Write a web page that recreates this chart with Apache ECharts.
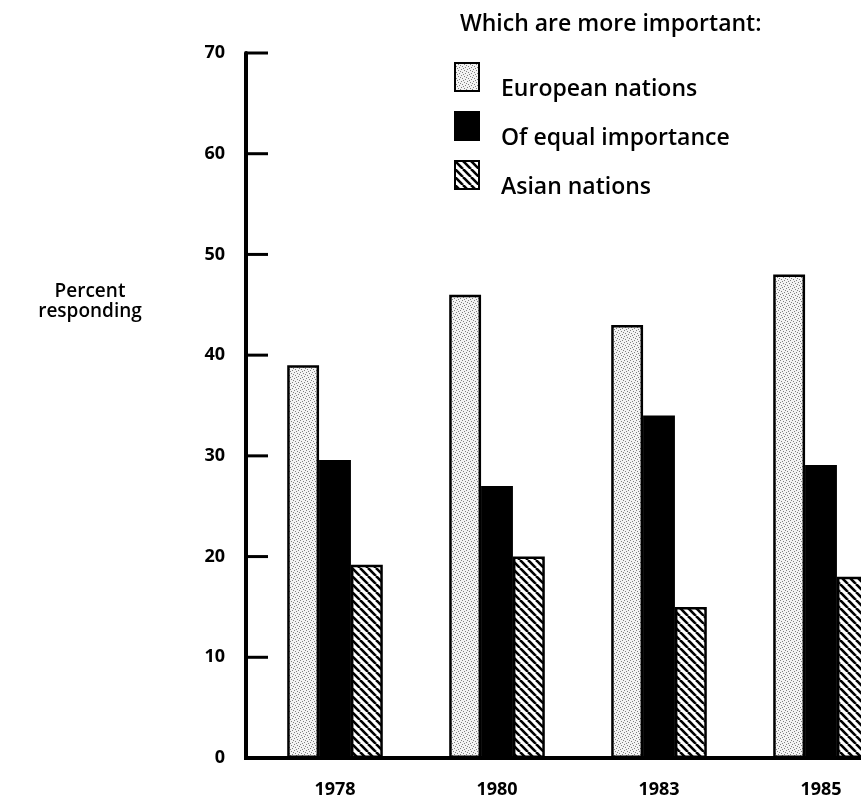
<!DOCTYPE html>
<html>
<head>
<meta charset="utf-8">
<script src="https://cdn.jsdelivr.net/npm/echarts@6/dist/echarts.min.js"></script>
<style>
html,body{margin:0;padding:0;background:#fff;overflow:hidden;width:861px;height:806px;}
#chart{width:902px;height:806px;}
</style>
</head>
<body>
<div id="chart"></div>
<script>
const years = ['1978', '1980', '1983', '1985'];
const european = [39, 46, 43, 48];
const equal = [29.6, 27, 34, 29.1];
const asian = [19.2, 20, 15, 18];
const seriesNames = ['European nations', 'Of equal importance', 'Asian nations'];
const titleText = 'Which are more important:';
const yName = 'Percent\nresponding';
const yMin = 0, yMax = 70, yStep = 10;

const FONT = '"Open Sans", "DejaVu Sans", sans-serif';

function stipple() {
  const c = document.createElement('canvas');
  c.width = 6; c.height = 6;
  const g = c.getContext('2d');
  g.fillStyle = '#f3f3f3'; g.fillRect(0, 0, 6, 6);
  g.fillStyle = '#808080';
  [[0,0],[3,1],[1,3],[4,4],[5,2],[2,5]].forEach(p => g.fillRect(p[0], p[1], 1, 1));
  return c;
}
function hatch() {
  const c = document.createElement('canvas');
  c.width = 8; c.height = 8;
  const g = c.getContext('2d');
  g.fillStyle = '#fff'; g.fillRect(0, 0, 8, 8);
  g.strokeStyle = '#000'; g.lineWidth = 2.6;
  [-8, 0, 8].forEach(o => { g.beginPath(); g.moveTo(o, 0); g.lineTo(o + 8, 8); g.stroke(); });
  return c;
}

const chart = echarts.init(document.getElementById('chart'));
const border = { borderColor: '#000', borderWidth: 2.5 };
const option = {
  backgroundColor: '#fff',
  animation: false,
  title: [
    { text: titleText, left: 455, top: 8, textStyle: { fontFamily: FONT, fontSize: 23, fontWeight: 600, color: '#000' } },
    { text: yName, left: 85, top: 277, textAlign: 'center', textStyle: { fontFamily: FONT, fontSize: 19, fontWeight: 600, color: '#000', lineHeight: 20 } }
  ],
  legend: {
    orient: 'vertical', left: 449, top: 48,
    icon: 'rect',
    itemWidth: 24, itemHeight: 28, itemGap: 1,
    data: seriesNames,
    formatter: name => '\n' + name,
    textStyle: { fontFamily: FONT, fontSize: 23, fontWeight: 600, color: '#000', lineHeight: 24, padding: [0, 0, 0, 17] },
    itemStyle: { borderColor: '#000', borderWidth: 2 }
  },
  grid: { left: 254, right: 0, top: 53, bottom: 48, containLabel: false },
  xAxis: {
    type: 'category', data: years,
    axisLine: { lineStyle: { color: '#000', width: 4 } },
    axisTick: { show: false },
    axisLabel: { color: '#000', fontFamily: FONT, fontSize: 18, fontWeight: 'bold', margin: 23 }
  },
  yAxis: {
    type: 'value', min: yMin, max: yMax, interval: yStep, offset: 8,
    splitLine: { show: false },
    axisLine: { show: true, lineStyle: { color: '#000', width: 4 } },
    axisTick: { show: false },
    axisLabel: { color: '#000', fontFamily: FONT, fontSize: 18, fontWeight: 'bold', margin: 21 }
  },
  series: [
    { name: seriesNames[0], type: 'bar', data: european, barGap: '0%', barCategoryGap: '41%',
      itemStyle: Object.assign({ color: { image: stipple(), repeat: 'repeat' } }, border) },
    { name: seriesNames[1], type: 'bar', data: equal,
      itemStyle: Object.assign({ color: '#000' }, border) },
    { name: seriesNames[2], type: 'bar', data: asian,
      itemStyle: Object.assign({ color: { image: hatch(), repeat: 'repeat' } }, border) }
  ]
};
chart.setOption(option);
const axisX = 246;
const y0 = chart.convertToPixel({ yAxisIndex: 0 }, yMin);
const graphics = [{ type: 'line', shape: { x1: axisX - 2, y1: y0, x2: 256, y2: y0 }, style: { stroke: '#000', lineWidth: 4 } }];
for (let v = yMin; v <= yMax; v += yStep) {
  const y = chart.convertToPixel({ yAxisIndex: 0 }, v);
  graphics.push({ type: 'line', shape: { x1: axisX, y1: y, x2: axisX + 22, y2: y }, style: { stroke: '#000', lineWidth: 3 } });
}
chart.setOption({ graphic: graphics });
</script>
</body>
</html>
